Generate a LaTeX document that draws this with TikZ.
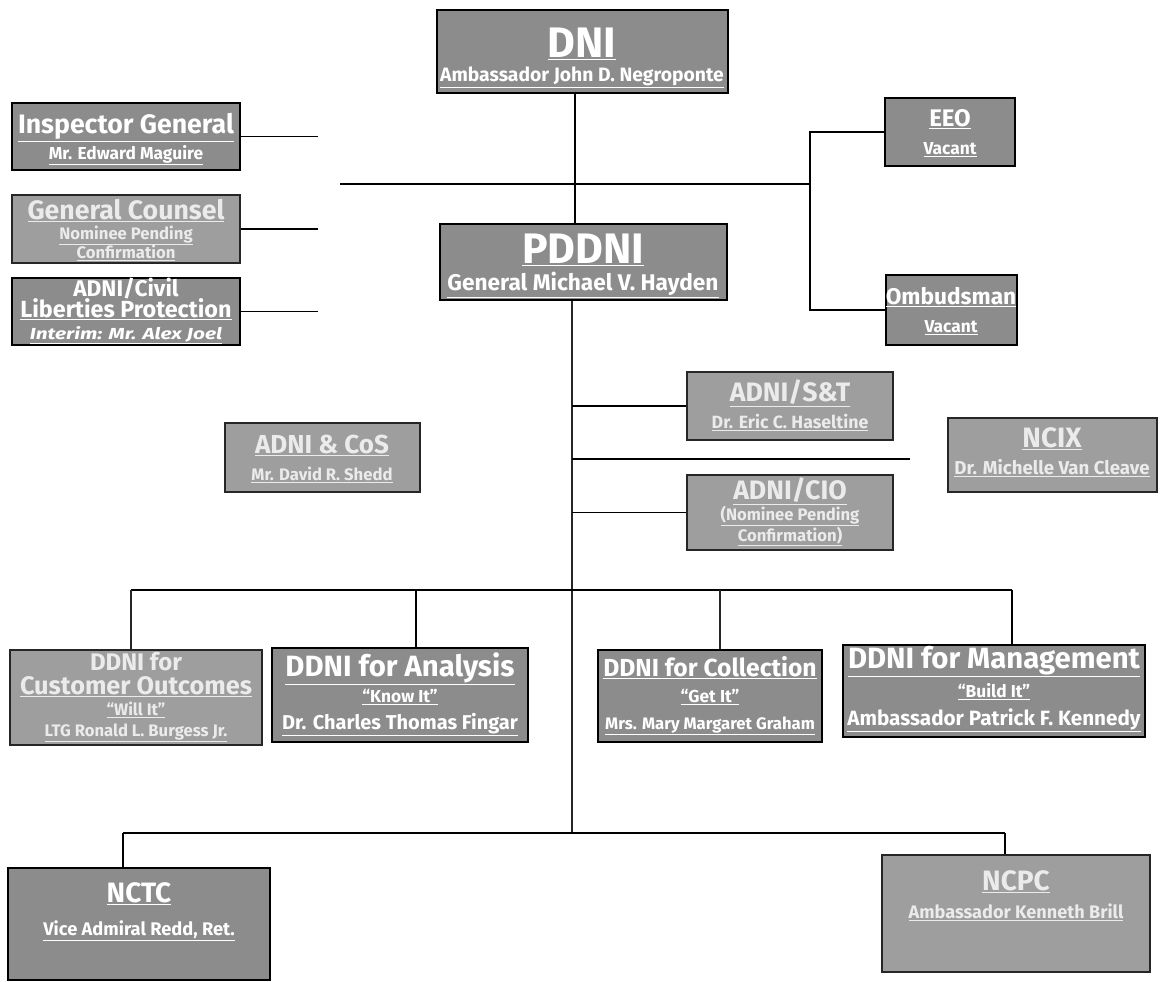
\documentclass[tikz,border=0pt]{standalone}
\usepackage{fontspec}
\usepackage{graphicx}
\setmainfont{Fira Sans}
\usetikzlibrary{fit}
\tikzset{
  dbox/.style={draw=black, line width=1.6pt, fill=black!45, inner sep=0pt},
  lbox/.style={draw=black!85, line width=1.3pt, fill=black!38, inner sep=0pt},
  dt/.style={text=white, font=\bfseries, inner sep=0pt, anchor=base},
  lt/.style={text=black!8, font=\bfseries, inner sep=0pt, anchor=base},
  conn/.style={line width=1.1pt, draw=black},
  vconn/.style={line width=0.9pt, draw=black!85},
}
\newcommand\myul[1]{\underline{#1}}
% \tx[style]{name}{x}{baseline y}{size}{text}
\newcommand\tx[6][dt]{\node[#1] (#2) at (#3,#4) {\fontsize{#5}{#5}\selectfont\myul{#6}};}
\begin{document}
\begin{tikzpicture}[x=0.75pt,y=-0.75pt]
\useasboundingbox (0,0) rectangle (1165,982);
% ---------- boxes
\node[dbox, fit={(437,10)(728,93)}] (dni) {};
\node[dbox, fit={(12,103)(240,170)}] (ig) {};
\node[lbox, fit={(12,195)(240,263)}] (gc) {};
\node[dbox, fit={(12,278)(240,345)}] (civ) {};
\node[dbox, fit={(440,224)(727,300)}] (pddni) {};
\node[dbox, fit={(885,98)(1015,166)}] (eeo) {};
\node[dbox, fit={(886,275)(1017,345)}] (omb) {};
\node[lbox, fit={(225,423)(420,492)}] (cos) {};
\node[lbox, fit={(687,372)(893,440)}] (st) {};
\node[lbox, fit={(687,475)(893,550)}] (cio) {};
\node[lbox, fit={(948,418)(1157,492)}] (ncix) {};
\node[lbox, fit={(10,650)(262,745)}] (cust) {};
\node[dbox, fit={(272,648)(528,742)}] (ana) {};
\node[dbox, fit={(598,650)(822,742)}] (col) {};
\node[dbox, fit={(843,645)(1145,737)}] (man) {};
\node[dbox, fit={(8,868)(270,980)}] (nctc) {};
\node[lbox, fit={(882,855)(1150,972)}] (ncpc) {};
% ---------- texts
\tx{dni1}{582}{57}{32}{DNI}
\tx{dni2}{582}{81}{14.5}{Ambassador John D. Negroponte}
\tx{ig1}{126}{133}{20}{Inspector General}
\tx{ig2}{126}{159}{13}{Mr. Edward Maguire}
\tx[lt]{gc1}{126}{219}{20}{General Counsel}
\tx[lt]{gc2}{126}{239}{12.5}{Nominee Pending}
\tx[lt]{gc3}{126}{258}{12.5}{Confirmation}
\node[dt] (civ1) at (126,296) {\fontsize{17}{17}\selectfont ADNI/Civil};
\tx{civ2}{126}{317}{17.5}{Liberties Protection}
\node[dt] (civ3) at (126,339) {\fontsize{12}{12}\selectfont\myul{\scalebox{1.3}[1]{\itshape Interim: Mr. Alex Joel}}};
\tx{pd1}{583}{263}{32}{PDDNI}
\tx{pd2}{583}{290}{17}{General Michael V. Hayden}
\tx{eeo1}{950}{126}{18}{EEO}
\tx{eeo2}{950}{154}{13}{Vacant}
\tx{omb1}{951}{304}{17}{Ombudsman}
\tx{omb2}{951}{332}{13}{Vacant}
\tx[lt]{cos1}{322}{453}{19.5}{ADNI \& CoS}
\tx[lt]{cos2}{322}{480}{12.5}{Mr. David R. Shedd}
\tx[lt]{st1}{790}{401}{20}{ADNI/S\&T}
\tx[lt]{st2}{790}{428}{13.3}{Dr. Eric C. Haseltine}
\tx[lt]{cio1}{790}{499}{20}{ADNI/CIO}
\tx[lt]{cio2}{790}{520}{12.5}{(Nominee Pending}
\tx[lt]{cio3}{790}{541}{12.5}{Confirmation)}
\tx[lt]{ncix1}{1052}{447}{21}{NCIX}
\tx[lt]{ncix2}{1052}{474}{14}{Dr. Michelle Van Cleave}
\node[lt] (cu1) at (136,670) {\fontsize{18}{18}\selectfont DDNI for};
\tx[lt]{cu2}{136}{694}{19}{Customer Outcomes}
\tx[lt]{cu3}{136}{715}{12.5}{``Will It''}
\tx[lt]{cu4}{136}{736}{12.5}{LTG Ronald L. Burgess Jr.}
\tx{an1}{400}{676}{22}{DDNI for Analysis}
\tx{an2}{400}{702}{13}{``Know It''}
\tx{an3}{400}{729}{15}{Dr. Charles Thomas Fingar}
\tx{co1}{710}{676}{18.5}{DDNI for Collection}
\tx{co2}{710}{702}{13}{``Get It''}
\tx{co3}{710}{729}{12.5}{Mrs. Mary Margaret Graham}
\tx{ma1}{994}{668}{22}{DDNI for Management}
\tx{ma2}{994}{697}{13}{``Build It''}
\tx{ma3}{994}{725}{15.5}{Ambassador Patrick F. Kennedy}
\tx{nc1}{139}{902}{21}{NCTC}
\tx{nc2}{139}{935}{13.7}{Vice Admiral Redd, Ret.}
\tx[lt]{np1}{1016}{890}{21}{NCPC}
\tx[lt]{np2}{1016}{918}{13.6}{Ambassador Kenneth Brill}
% ---------- coordinates
\coordinate (cL) at (318,0);
\coordinate (hL) at (340,184);
\coordinate (hR) at (810,184);
\coordinate (va) at (575,0);
\coordinate (mv) at (572,0);
\coordinate (xn) at (910,459);
\coordinate (dL) at (131,590);
\coordinate (dR) at (1012,590);
\coordinate (d2) at (416,0);
\coordinate (d3) at (720,0);
\coordinate (bL) at (123,833);
\coordinate (bR) at (1005,833);
% ---------- connectors
\draw[conn] (va |- dni.south) -- (va |- pddni.north);
\draw[conn] (hL) -- (hR);
\draw[conn] (ig.east) -- (ig.east -| cL);
\draw[conn] (gc.east) -- (gc.east -| cL);
\draw[conn] (civ.east) -- (civ.east -| cL);
\draw[conn] (eeo.west) -- (eeo.west -| hR) -- (omb.west -| hR) -- (omb.west);
\draw[vconn] (mv |- pddni.south) -- (mv |- bL);
\draw[conn] (mv |- st.west) -- (st.west);
\draw[conn] (mv |- cio.west) -- (cio.west);
\draw[conn] (mv |- xn) -- (xn);
\draw[conn] (dL) -- (dR);
\draw[vconn] (dL) -- (dL |- cust.north);
\draw[conn] (d2 |- dL) -- (d2 |- ana.north);
\draw[vconn] (d3 |- dL) -- (d3 |- col.north);
\draw[conn] (dR) -- (dR |- man.north);
\draw[conn] (bL) -- (bR);
\draw[conn] (bL) -- (bL |- nctc.north);
\draw[conn] (bR) -- (bR |- ncpc.north);
\end{tikzpicture}
\end{document}
